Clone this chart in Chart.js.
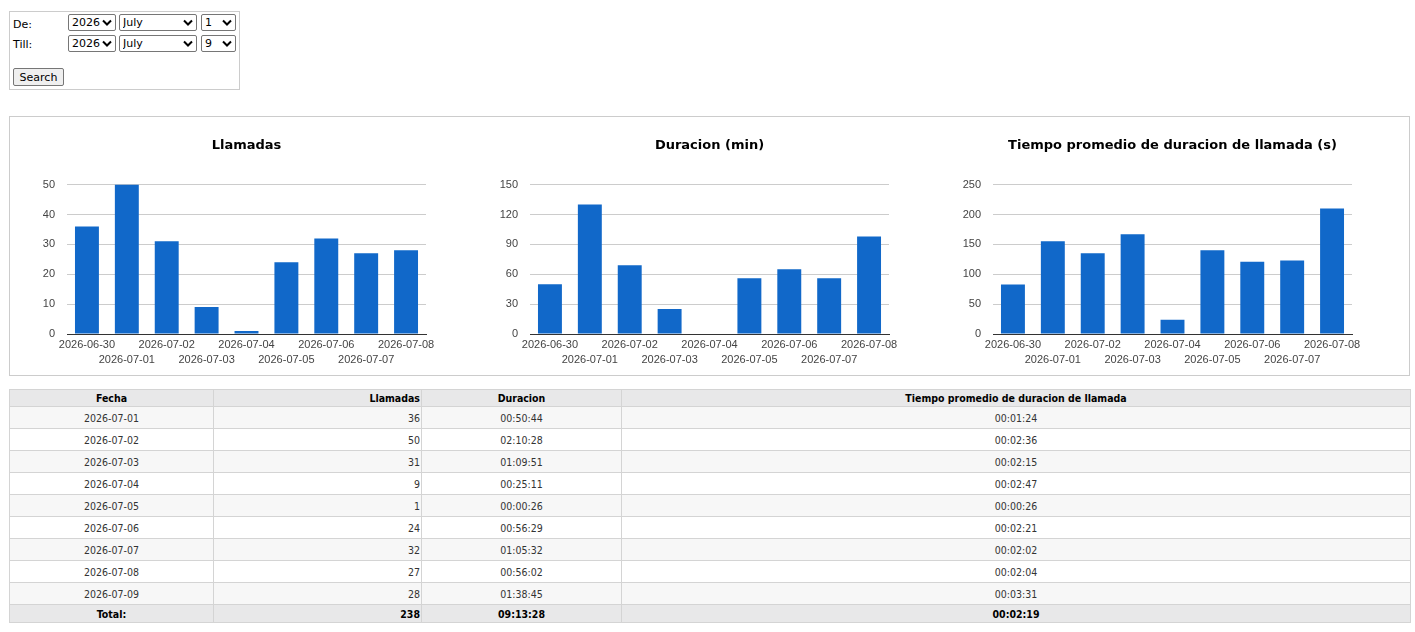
<!DOCTYPE html>
<html>
<head>
<meta charset="utf-8">
<script src="https://cdn.jsdelivr.net/npm/chart.js@4"></script>
<style>
  html, body { margin:0; padding:0; background:#fff; }
  body { width:1415px; height:632px; position:relative; font-family:"DejaVu Sans", Verdana, sans-serif; font-size:11px; color:#000; overflow:hidden; }
  #form { position:absolute; left:9px; top:11px; width:229px; height:77px; border:1px solid #ccc; }
  #form .lbl { position:absolute; left:3px; font-size:11px; }
  #form select { position:absolute; height:17px; font-family:"DejaVu Sans", Verdana, sans-serif; font-size:11px; padding:0 0 0 3px; border:1px solid #767676; border-radius:2px; color:#000; box-sizing:border-box;
    -webkit-appearance:none; appearance:none;
    background:#fff url("data:image/svg+xml;utf8,<svg xmlns='http://www.w3.org/2000/svg' width='10' height='7'><path d='M1 1.5 L5 5.5 L9 1.5' fill='none' stroke='black' stroke-width='2'/></svg>") no-repeat right 3px center; }
  #form button { position:absolute; left:3px; top:56px; width:51px; height:18px; font-family:"DejaVu Sans", Verdana, sans-serif; font-size:11px; padding:0; border:1px solid #767676; border-radius:2px; background:#efefef; color:#000; }
  #panel { position:absolute; left:9px; top:116px; width:1399px; height:258px; border:1px solid #ccc; }
  .cw { position:absolute; top:0; width:463px; height:258px; }
  table { position:absolute; left:9px; top:389px; width:1402px; border-collapse:collapse; font-family:"DejaVu Sans Condensed","DejaVu Sans",sans-serif; font-stretch:condensed; font-size:10.5px; color:#333; }
  th, td { border:1px solid #d4d4d4; padding:0 1px; }
  th { background:#e8e8e9; color:#000; font-weight:bold; height:16px; }
  td { height:21px; text-align:center; }
  tbody tr:nth-child(odd) td { background:#f7f7f7; }
  tbody tr:nth-child(even) td { background:#fff; }
  td.r, th.r { text-align:right; }
  tfoot td { background:#e8e8e9; color:#000; font-weight:bold; height:17px; }
</style>
</head>
<body>
<div id="form">
  <span class="lbl" style="top:6px">De:</span>
  <select style="left:58px;top:2px;width:48px"><option>2026</option></select>
  <select style="left:109px;top:2px;width:78px"><option>July</option></select>
  <select style="left:191px;top:2px;width:35px"><option>1</option></select>
  <span class="lbl" style="top:26px">Till:</span>
  <select style="left:58px;top:23px;width:48px"><option>2026</option></select>
  <select style="left:109px;top:23px;width:78px"><option>July</option></select>
  <select style="left:191px;top:23px;width:35px"><option>9</option></select>
  <button>Search</button>
</div>

<div id="panel">
  <div class="cw" style="left:0px"><canvas id="c1"></canvas></div>
  <div class="cw" style="left:463px"><canvas id="c2"></canvas></div>
  <div class="cw" style="left:926px"><canvas id="c3"></canvas></div>
</div>

<table id="tbl">
  <thead><tr>
    <th style="width:201px">Fecha</th>
    <th class="r" style="width:205px">Llamadas</th>
    <th style="width:197px">Duracion</th>
    <th>Tiempo promedio de duracion de llamada</th>
  </tr></thead>
  <tbody id="tb"></tbody>
  <tfoot id="tf"></tfoot>
</table>

<script>
// ---- chart data ----
const chartDates = ["2026-06-30","2026-07-01","2026-07-02","2026-07-03","2026-07-04","2026-07-05","2026-07-06","2026-07-07","2026-07-08"];
const llamadas = [36, 50, 31, 9, 1, 24, 32, 27, 28];
const duracionMin = [50, 130, 69, 25, 0.4, 56, 65, 56, 98];
const promedioSeg = [83, 155, 135, 167, 24, 140, 121, 123, 210];

const chartTitles = ["Llamadas", "Duracion (min)", "Tiempo promedio de duracion de llamada (s)"];
const yMax = [50, 150, 250];
const yStep = [10, 30, 50];

// ---- table data ----
const tableFechas = ["2026-07-01","2026-07-02","2026-07-03","2026-07-04","2026-07-05","2026-07-06","2026-07-07","2026-07-08","2026-07-09"];
const tableLlamadas = [36, 50, 31, 9, 1, 24, 32, 27, 28];
const tableDuracion = ["00:50:44","02:10:28","01:09:51","00:25:11","00:00:26","00:56:29","01:05:32","00:56:02","01:38:45"];
const tablePromedio = ["00:01:24","00:02:36","00:02:15","00:02:47","00:00:26","00:02:21","00:02:02","00:02:04","00:03:31"];
const totalRow = ["Total:", "238", "09:13:28", "00:02:19"];

// build table
const tb = document.getElementById('tb');
tableFechas.forEach((f, i) => {
  const tr = document.createElement('tr');
  tr.innerHTML = '<td>' + f + '</td><td class="r">' + tableLlamadas[i] + '</td><td>' + tableDuracion[i] + '</td><td>' + tablePromedio[i] + '</td>';
  tb.appendChild(tr);
});
document.getElementById('tf').innerHTML = '<tr><td>' + totalRow[0] + '</td><td class="r">' + totalRow[1] + '</td><td>' + totalRow[2] + '</td><td>' + totalRow[3] + '</td></tr>';

// title centered over plot area
const centerTitle = {
  id: 'centerTitle',
  afterLayout(chart) {
    const t = chart.titleBlock;
    if (t) {
      t.left = chart.chartArea.left;
      t.right = chart.chartArea.right;
      t.width = t.right - t.left;
    }
  }
};

const series = [llamadas, duracionMin, promedioSeg];
['c1','c2','c3'].forEach((id, k) => {
  new Chart(document.getElementById(id), {
    type: 'bar',
    data: {
      labels: chartDates,
      datasets: [{
        data: series[k],
        backgroundColor: '#1168c9',
        barPercentage: 0.6,
        categoryPercentage: 1.0
      }]
    },
    options: {
      responsive: true,
      maintainAspectRatio: false,
      animation: false,
      layout: { padding: { left: 0, right: 47, top: 0, bottom: 0 } },
      plugins: {
        legend: { display: false },
        tooltip: { enabled: false },
        title: {
          display: true,
          text: chartTitles[k],
          color: '#000',
          font: { family: '"DejaVu Sans", Verdana, sans-serif', size: 13, weight: 'bold', lineHeight: 1.2 },
          padding: { top: 21, bottom: 31 }
        }
      },
      scales: {
        x: {
          grid: { display: false, drawTicks: false },
          border: { display: true, color: '#333', width: 1 },
          ticks: {
            autoSkip: false,
            maxRotation: 0,
            minRotation: 0,
            padding: 3,
            color: '#444',
            font: { family: '"Liberation Sans", Arial, sans-serif', size: 11, lineHeight: 1.42 },
            callback: function(v, i) {
              const l = this.getLabelForValue(v);
              return i % 2 === 1 ? ['', l] : l;
            }
          },
          afterFit: s => { s.height = 41; }
        },
        y: {
          min: 0,
          max: yMax[k],
          grid: { color: '#ccc', drawTicks: false },
          border: { display: false },
          ticks: {
            stepSize: yStep[k],
            padding: 12,
            color: '#444',
            font: { family: '"Liberation Sans", Arial, sans-serif', size: 11 }
          },
          afterFit: s => { s.width = 57; }
        }
      }
    },
    plugins: [centerTitle]
  });
});
</script>
</body>
</html>
